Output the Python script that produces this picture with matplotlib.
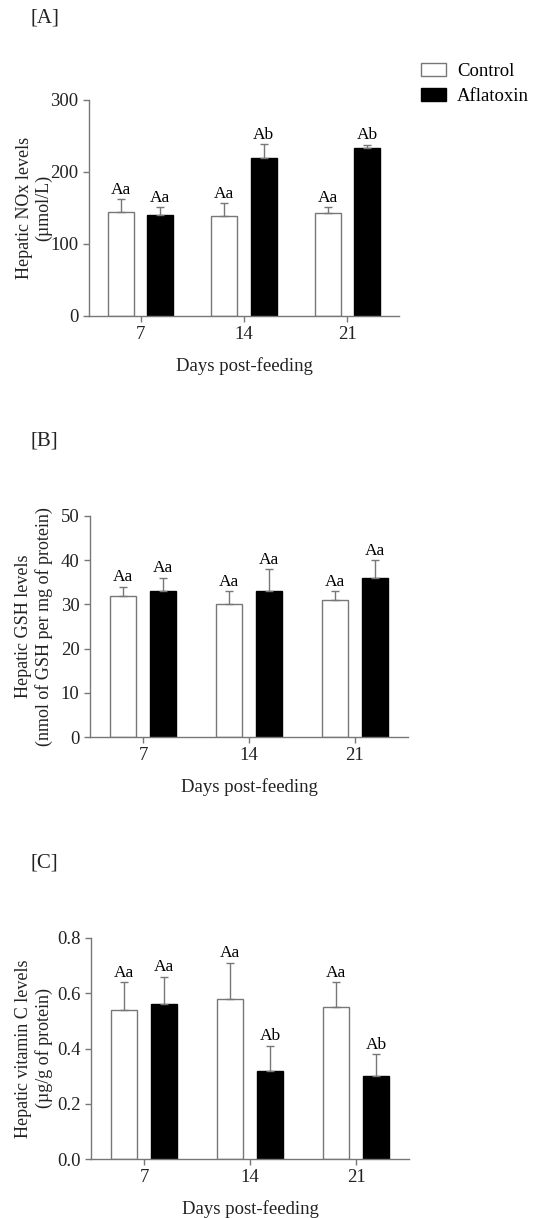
import numpy as np
import matplotlib.pyplot as plt
from matplotlib.patches import Patch

plt.rcParams['font.family'] = ['Liberation Serif', 'DejaVu Serif']

# Data
days = ['7', '14', '21']

nox_control = [144, 139, 143]
nox_control_err = [18, 18, 8]
nox_afla = [140, 220, 233]
nox_afla_err = [11, 19, 5]
nox_control_lbl = ['Aa', 'Aa', 'Aa']
nox_afla_lbl = ['Aa', 'Ab', 'Ab']

gsh_control = [32, 30, 31]
gsh_control_err = [2, 3, 2]
gsh_afla = [33, 33, 36]
gsh_afla_err = [3, 5, 4]
gsh_control_lbl = ['Aa', 'Aa', 'Aa']
gsh_afla_lbl = ['Aa', 'Aa', 'Aa']

vitc_control = [0.54, 0.58, 0.55]
vitc_control_err = [0.10, 0.13, 0.09]
vitc_afla = [0.56, 0.32, 0.30]
vitc_afla_err = [0.10, 0.09, 0.08]
vitc_control_lbl = ['Aa', 'Aa', 'Aa']
vitc_afla_lbl = ['Aa', 'Ab', 'Ab']

GRAY = '#777777'
W, H = 545, 1218
fig = plt.figure(figsize=(W / 100, H / 100), dpi=100)


def panel(box, ctrl, ctrl_err, afla, afla_err, ctrl_lbl, afla_lbl,
          ylim, yticks, ylabel, tag, tag_y):
    l, t, r, b = box
    ax = fig.add_axes([l / W, 1 - b / H, (r - l) / W, (b - t) / H])
    x = np.arange(len(days))
    off, bw = 0.19, 0.25
    ax.bar(x - off, ctrl, bw, color='white', edgecolor=GRAY, linewidth=1.0,
           yerr=[np.zeros(3), ctrl_err], error_kw=dict(ecolor=GRAY, elinewidth=1.0, capsize=3, capthick=1.0))
    ax.bar(x + off, afla, bw, color='black', edgecolor='black', linewidth=1.0,
           yerr=[np.zeros(3), afla_err], error_kw=dict(ecolor=GRAY, elinewidth=1.0, capsize=3, capthick=1.0))
    for xi, v, e, s in zip(x - off, ctrl, ctrl_err, ctrl_lbl):
        ax.annotate(s, (xi, v + e), xytext=(0, 1), textcoords='offset points',
                    ha='center', va='bottom', fontsize=12.5)
    for xi, v, e, s in zip(x + off, afla, afla_err, afla_lbl):
        ax.annotate(s, (xi, v + e), xytext=(0, 1), textcoords='offset points',
                    ha='center', va='bottom', fontsize=12.5)
    ax.set_xlim(-0.5, 2.5)
    ax.set_ylim(*ylim)
    ax.set_yticks(yticks)
    ax.set_xticks(x)
    ax.set_xticklabels(days)
    for s in ['top', 'right']:
        ax.spines[s].set_visible(False)
    for s in ['left', 'bottom']:
        ax.spines[s].set_color(GRAY)
        ax.spines[s].set_linewidth(1.0)
    ax.tick_params(colors=GRAY, labelcolor='#222222', labelsize=13.5, length=4, width=1.0)
    ax.set_xlabel('Days post-feeding', fontsize=13.5, color='#222222', labelpad=10)
    fig.text(34 / W, 1 - (t + b) / 2 / H, ylabel, rotation=90, ha='center', va='center',
             multialignment='center', fontsize=13, color='#222222', linespacing=1.15)
    fig.text(30 / W, 1 - tag_y / H, tag, ha='left', va='center', fontsize=15, color='#222222')
    return ax


panel((89, 100, 399, 316), nox_control, nox_control_err, nox_afla, nox_afla_err,
      nox_control_lbl, nox_afla_lbl, (0, 300), [0, 100, 200, 300],
      'Hepatic NOx levels\n(µmol/L)', '[A]', 18)
panel((90, 516, 408, 737), gsh_control, gsh_control_err, gsh_afla, gsh_afla_err,
      gsh_control_lbl, gsh_afla_lbl, (0, 50), [0, 10, 20, 30, 40, 50],
      'Hepatic GSH levels\n(nmol of GSH per mg of protein)', '[B]', 441)
ax3 = panel((91, 938, 409, 1159), vitc_control, vitc_control_err, vitc_afla, vitc_afla_err,
            vitc_control_lbl, vitc_afla_lbl, (0, 0.8), [0.0, 0.2, 0.4, 0.6, 0.8],
            'Hepatic vitamin C levels\n(µg/g of protein)', '[C]', 863)
ax3.set_yticklabels(['0.0', '0.2', '0.4', '0.6', '0.8'])

handles = [Patch(facecolor='white', edgecolor=GRAY, label='Control'),
           Patch(facecolor='black', edgecolor='black', label='Aflatoxin')]
fig.legend(handles=handles, loc='upper left', bbox_to_anchor=(408 / W, 1 - 50 / H),
           frameon=False, fontsize=13.5, handlelength=1.3, handleheight=0.7,
           handletextpad=0.6, labelspacing=0.4, borderpad=0.2)

fig.savefig('out.png', dpi=100)
